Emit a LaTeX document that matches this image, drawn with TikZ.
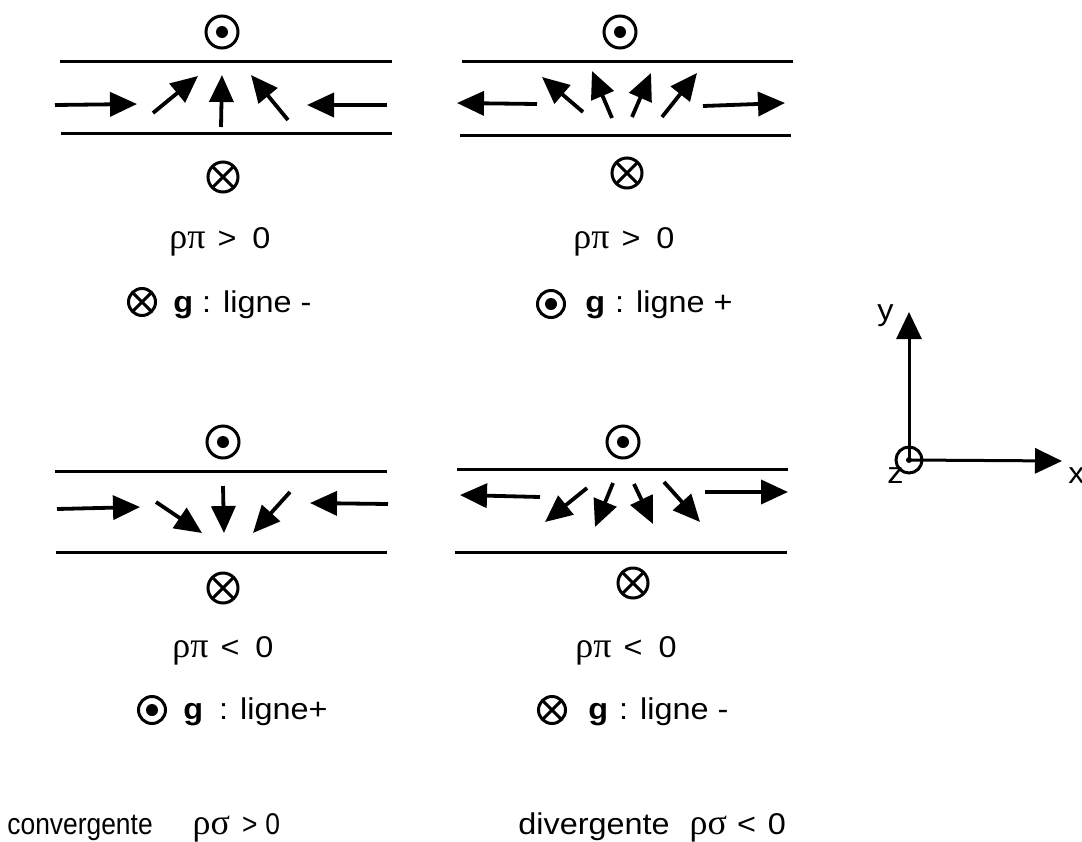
\documentclass[tikz,border=0pt]{standalone}
\usepackage{fontspec}
\setmainfont[FakeStretch=1.08]{Liberation Sans}
\newfontfamily\grk[Scale=1.2]{Liberation Serif}
\newfontfamily\narrowsf[FakeStretch=0.88]{Liberation Sans}
\usetikzlibrary{arrows.meta}

\tikzset{
  field/.style={line width=1.9pt, -{Triangle[length=13.5pt,width=12pt]}},
  axis/.style={line width=1.5pt, -{Triangle[length=13.5pt,width=12.5pt]}},
  wall/.style={line width=1.5pt},
  dotsym/.style={circle, draw, line width=1.5pt, inner sep=0pt, minimum size=16pt,
    path picture={\fill (path picture bounding box.center) circle (3pt);}},
  crosssym/.style={circle, draw, line width=1.5pt, inner sep=0pt, minimum size=15pt,
    path picture={\draw[line width=1.5pt]
      (path picture bounding box.north west) -- (path picture bounding box.south east)
      (path picture bounding box.north east) -- (path picture bounding box.south west);}},
  txt/.style={font=\fontsize{15}{18}\selectfont, inner sep=0pt, anchor=base west}
}

\begin{document}
\begin{tikzpicture}[x=0.5pt, y=-0.5pt]
\useasboundingbox (0,0) rectangle (1082,841);
% top left: converging, pointing up
\draw [wall] (60,61) -- (392,61);
\draw [wall] (61,133) -- (392,133);
\draw [field] (55,105) -- (137,104);
\draw [field] (153,113) -- (198,76);
\draw [field] (221,127) -- (222,75);
\draw [field] (288,120) -- (251,75);
\draw [field] (387,105) -- (307,105);
\node [dotsym] (tlup) at (222,32) {};
\node [crosssym] (tldown) at (223,177) {};
\node [txt, anchor=base] (tlrho) at (220,248) {{\grk ρπ}\hspace{6pt}>\hspace{8pt}0};
\node [crosssym, minimum size=13.5pt] (tlsym) at (142,302) {};
\node [txt] (tlline) at (173,312) {\textbf{g}\hspace{4.5pt}: ligne -};
% top right: diverging, pointing up
\draw [wall] (462,61) -- (793,61);
\draw [wall] (460,135) -- (791,135);
\draw [field] (537,104) -- (457,103);
\draw [field] (583,112) -- (542,77);
\draw [field] (612,118) -- (592,71);
\draw [field] (632,117) -- (651,73);
\draw [field] (662,117) -- (697,73);
\draw [field] (703,106) -- (785,103);
\node [dotsym] (trup) at (620,32) {};
\node [crosssym] (trdown) at (627,173) {};
\node [txt, anchor=base] (trrho) at (624,248) {{\grk ρπ}\hspace{6pt}>\hspace{8pt}0};
\node [dotsym, minimum size=13.5pt] (trsym) at (551,304) {};
\node [txt] (trline) at (585,312) {\textbf{g}\hspace{5pt}: ligne +};
% bottom left: converging, pointing down
\draw [wall] (55,471) -- (387,471);
\draw [wall] (56,552) -- (387,552);
\draw [field] (57,509) -- (140,507);
\draw [field] (156,502) -- (202,533);
\draw [field] (223,486) -- (224,533);
\draw [field] (290,492) -- (253,533);
\draw [field] (388,504) -- (310,503);
\node [dotsym] (blup) at (223,442) {};
\node [crosssym] (bldown) at (223,588) {};
\node [txt, anchor=base] (blrho) at (223,657) {{\grk ρπ}\hspace{6pt}<\hspace{8pt}0};
\node [dotsym, minimum size=13.5pt] (blsym) at (152,710) {};
\node [txt] (blline) at (183,719) {\textbf{g}\hspace{8pt}: ligne+};
% bottom right: diverging, pointing down
\draw [wall] (457,469) -- (788,469);
\draw [wall] (455,552) -- (787,552);
\draw [field] (540,497) -- (460,495);
\draw [field] (587,488) -- (545,522);
\draw [field] (613,483) -- (595,527);
\draw [field] (634,484) -- (653,524);
\draw [field] (664,482) -- (700,522);
\draw [field] (705,492) -- (788,492);
\node [dotsym] (brup) at (623,442) {};
\node [crosssym] (brdown) at (633,583) {};
\node [txt, anchor=base] (brrho) at (626,657) {{\grk ρπ}\hspace{6pt}<\hspace{8pt}0};
\node [crosssym, minimum size=13.5pt] (brsym) at (552,710) {};
\node [txt] (brline) at (588,719) {\textbf{g}\hspace{5.5pt}: ligne -};
% axes
\coordinate (O) at (909,460);
\coordinate (Y) at (909,312);
\coordinate (X) at (1062,461);
\draw [axis] (O) -- (Y);
\draw [axis] (O) -- (X);
\node [circle, draw, line width=1.5pt, inner sep=0pt, minimum size=13pt] (zax) at (O) {};
\fill (O) circle (1.5pt);
\node [txt] (ylab) at (877,320) {y};
\node [txt] (zlab) at (887,483) {z};
\node [txt] (xlab) at (1068,483) {x};
% bottom captions
\node [txt, font=\narrowsf\fontsize{15}{18}\selectfont] (conv) at (7,834) {convergente\hspace{20pt}{\grk ρσ}\hspace{6pt}>\hspace{4pt}0};
\node [txt] (div) at (518,834) {divergente\hspace{10pt}{\grk ρσ}\hspace{5pt}<\hspace{6pt}0};
\end{tikzpicture}
\end{document}
